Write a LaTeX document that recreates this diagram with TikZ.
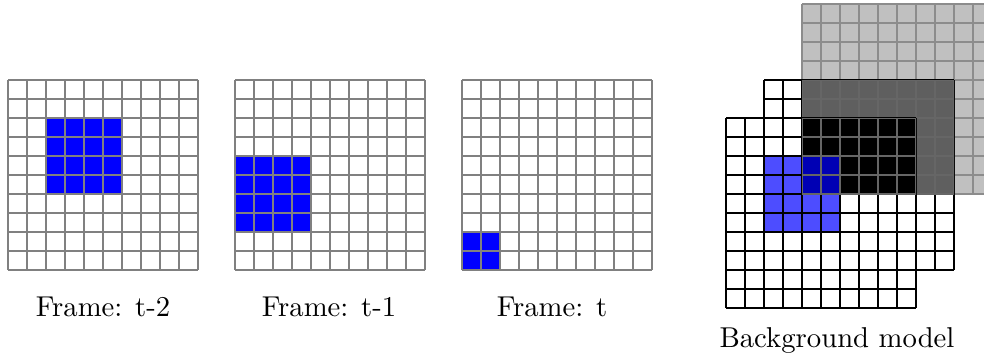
\documentclass[tikz,border=0pt]{standalone}
\usepackage{tikz}
\definecolor{lightbg}{HTML}{C0C0C0}
\definecolor{darkbg}{HTML}{5F5F5F}
\definecolor{lightblue}{HTML}{4D4DFF}
\definecolor{deepblue}{HTML}{0000B4}
\tikzset{
  framegrid/.style={draw=black!50, line width=0.4pt},
  backgrid/.style={draw=black!45, line width=0.4pt},
  layergrid/.style={draw=black, line width=0.4pt},
  overgrid/.style={draw=black!60, line width=0.4pt},
  label/.style={anchor=base, inner sep=0pt},
}
\newcommand\cellgrid[5]{%
  \foreach \i in {0,...,#4} \draw[#1] ({#2+\i*19},#3) -- ++(0,{#5*19});
  \foreach \j in {0,...,#5} \draw[#1] (#2,{#3+\j*19}) -- ++({#4*19},0);
}
\begin{document}
\begin{tikzpicture}[x=0.3484pt,y=-0.3484pt]
\useasboundingbox (0,0) rectangle (984,360);
\clip (0,0) rectangle (984,360);
% Frame t-2
\fill[blue] (46,118) rectangle (122,194);
\cellgrid{framegrid}{8}{80}{10}{10}
\node[label] (l1) at (103,316) {Frame: t-2};
% Frame t-1
\fill[blue] (235,156) rectangle (311,232);
\cellgrid{framegrid}{235}{80}{10}{10}
\node[label] (l2) at (329,316) {Frame: t-1};
% Frame t
\fill[blue] (462,232) rectangle (500,270);
\cellgrid{framegrid}{462}{80}{10}{10}
\node[label] (l3) at (552,316) {Frame: t};
% Background model: back layer
\fill[lightbg] (802,4) rectangle (992,194);
\cellgrid{backgrid}{802}{4}{10}{10}
% middle layer
\fill[white] (764,80) rectangle (954,270);
\fill[darkbg] (802,80) rectangle (954,194);
\cellgrid{layergrid}{764}{80}{10}{10}
\begin{scope}
\clip (802,80) rectangle (954,194);
\cellgrid{overgrid}{764}{80}{10}{10}
\end{scope}
% front layer
\fill[white] (726,118) rectangle (916,308);
\fill[black] (802,118) rectangle (916,194);
\fill[lightblue] (764,156) rectangle (840,232);
\fill[deepblue] (802,156) rectangle (840,194);
\cellgrid{layergrid}{726}{118}{10}{10}
\begin{scope}
\clip (802,118) rectangle (916,194);
\cellgrid{overgrid}{726}{118}{10}{10}
\end{scope}
\node[label] (l4) at (837,347) {Background model};
\end{tikzpicture}
\end{document}
